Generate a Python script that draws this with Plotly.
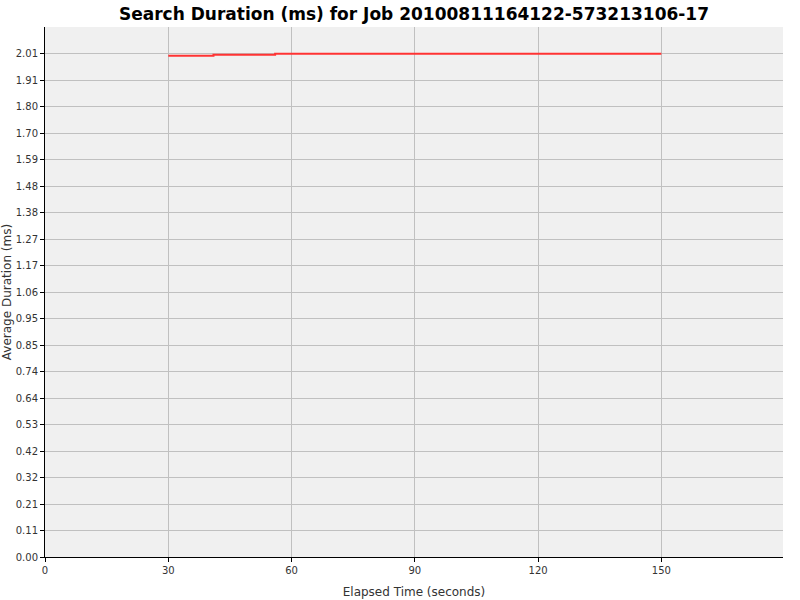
import plotly.graph_objects as go

# elapsed time (s) and average search duration (ms)
elapsed = [30, 41, 56, 150]
duration = [2.0045, 2.0085, 2.0122, 2.0122]

# y axis ticks as printed on the original
y_step = 0.10588
y_labels = ["0.00", "0.11", "0.21", "0.32", "0.42", "0.53", "0.64", "0.74",
            "0.85", "0.95", "1.06", "1.17", "1.27", "1.38", "1.48", "1.59",
            "1.70", "1.80", "1.91", "2.01"]
y_vals = [i * y_step for i in range(len(y_labels))]
x_ticks = [0, 30, 60, 90, 120, 150]

fig = go.Figure()

fig.add_trace(
    go.Scatter(
        x=elapsed,
        y=duration,
        mode="lines",
        line=dict(color="#FF3333", width=2, shape="hv"),
        showlegend=False,
    )
)

axis_font = dict(family="DejaVu Sans", size=10, color="#333333")

fig.update_layout(
    width=800,
    height=600,
    paper_bgcolor="white",
    plot_bgcolor="#F0F0F0",
    margin=dict(l=45, r=17, t=27, b=43),
    title=dict(
        text="<b>Search Duration (ms) for Job 20100811164122-573213106-17</b>",
        x=0.5,
        xref="paper",
        xanchor="center",
        y=0.976,
        yref="container",
        yanchor="middle",
        font=dict(family="DejaVu Sans", size=17, color="black"),
    ),
    xaxis=dict(
        range=[0, 179.6],
        automargin=False,
        tickmode="array",
        tickvals=x_ticks,
        ticks="outside",
        ticklen=4,
        tickcolor="black",
        showline=True,
        linecolor="black",
        linewidth=1,
        showgrid=True,
        gridcolor="#C0C0C0",
        gridwidth=1,
        zeroline=False,
        tickfont=axis_font,
        title=dict(text="Elapsed Time (seconds)",
                   font=dict(family="DejaVu Sans", size=12, color="#333333"),
                   standoff=12),
    ),
    yaxis=dict(
        range=[0, 2.119],
        automargin=False,
        tickmode="array",
        tickvals=y_vals,
        ticktext=y_labels,
        ticks="outside",
        ticklen=4,
        tickcolor="black",
        showline=True,
        linecolor="black",
        linewidth=1,
        showgrid=True,
        gridcolor="#C0C0C0",
        gridwidth=1,
        zeroline=False,
        tickfont=axis_font,
        title=dict(text="Average Duration (ms)",
                   font=dict(family="DejaVu Sans", size=12, color="#333333"),
                   standoff=2),
    ),
)

# drop the browser's default body margin so the 800x600 figure fills the window
fig.write_html("out.html", config={"displayModeBar": False},
               post_script="document.body.style.margin='0';")
